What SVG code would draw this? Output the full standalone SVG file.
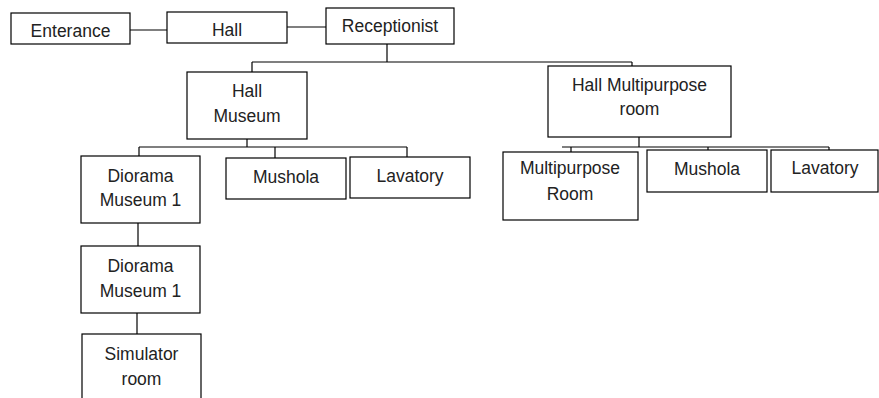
<svg xmlns="http://www.w3.org/2000/svg" width="879" height="398" viewBox="0 0 879 398">
<style>
rect{fill:#fff;stroke:#000;stroke-width:1.2}
line{stroke:#000;stroke-width:1.2}
text{font-family:"Liberation Sans",Arial,sans-serif;font-size:17.5px;fill:#222;text-anchor:middle}
</style>
<rect x="0" y="0" width="879" height="398" style="stroke:none"/>
<g id="connectors">
<line x1="130" y1="30" x2="167" y2="30"/>
<line x1="287" y1="27" x2="326" y2="27"/>
<line x1="387" y1="44" x2="387" y2="62"/>
<line x1="252" y1="62" x2="632" y2="62"/>
<line x1="252" y1="62" x2="252" y2="72"/>
<line x1="632" y1="62" x2="632" y2="66"/>
<line x1="247" y1="139" x2="247" y2="147"/>
<line x1="139" y1="147" x2="407" y2="147"/>
<line x1="139" y1="147" x2="139" y2="156"/>
<line x1="275" y1="147" x2="275" y2="158"/>
<line x1="407" y1="147" x2="407" y2="157"/>
<line x1="138" y1="223" x2="138" y2="246"/>
<line x1="137" y1="313" x2="137" y2="334"/>
<line x1="639" y1="137" x2="639" y2="147"/>
<line x1="562" y1="147" x2="829" y2="147"/>
<line x1="571" y1="147" x2="571" y2="152"/>
<line x1="708" y1="147" x2="708" y2="150"/>
<line x1="829" y1="147" x2="829" y2="150"/>
</g>
<g id="enterance"><rect x="11" y="13" width="119" height="31"/><text x="70.5" y="37">Enterance</text></g>
<g id="hall"><rect x="167" y="12" width="120" height="31"/><text x="227" y="36">Hall</text></g>
<g id="receptionist"><rect x="326" y="8" width="128" height="36"/><text x="390" y="32">Receptionist</text></g>
<g id="hall-museum"><rect x="187" y="72" width="120" height="67"/><text x="247" y="97">Hall</text><text x="247" y="122">Museum</text></g>
<g id="diorama1"><rect x="81" y="156" width="119" height="67"/><text x="140.5" y="182">Diorama</text><text x="140.5" y="206">Museum 1</text></g>
<g id="mushola1"><rect x="226" y="158" width="120" height="41"/><text x="286" y="183">Mushola</text></g>
<g id="lavatory1"><rect x="350" y="157" width="120" height="41"/><text x="410" y="182">Lavatory</text></g>
<g id="diorama2"><rect x="81" y="246" width="119" height="67"/><text x="140.5" y="272">Diorama</text><text x="140.5" y="297">Museum 1</text></g>
<g id="simulator"><rect x="82" y="334" width="119" height="72"/><text x="141.5" y="360">Simulator</text><text x="141.5" y="385">room</text></g>
<g id="hall-multipurpose"><rect x="548" y="66" width="183" height="71"/><text x="639.5" y="91">Hall Multipurpose</text><text x="639.5" y="115">room</text></g>
<g id="multipurpose-room"><rect x="503" y="152" width="135" height="68"/><text x="570" y="174">Multipurpose</text><text x="570" y="200">Room</text></g>
<g id="mushola2"><rect x="647" y="150" width="120" height="42"/><text x="707" y="175">Mushola</text></g>
<g id="lavatory2"><rect x="771" y="150" width="107" height="42"/><text x="825" y="174">Lavatory</text></g>
</svg>
